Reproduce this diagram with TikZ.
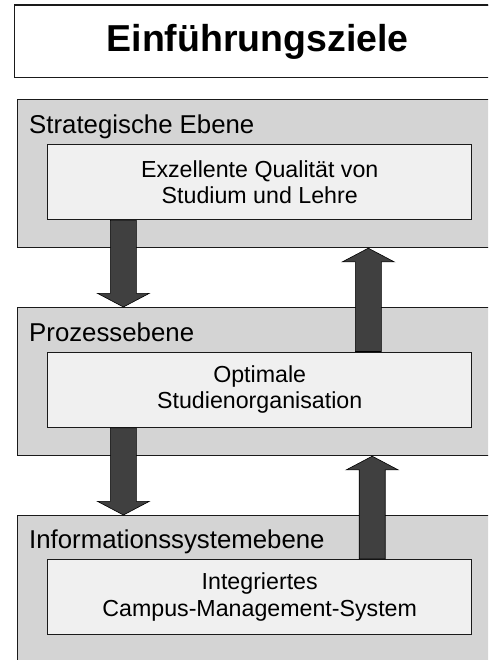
\documentclass[tikz,border=0pt]{standalone}
\usepackage{fontspec}
\setmainfont{Liberation Sans}
\usetikzlibrary{calc}
\definecolor{levelgray}{HTML}{D4D4D4}
\definecolor{innergray}{HTML}{F0F0F0}
\definecolor{arrowgray}{HTML}{404040}
\definecolor{edgeblack}{HTML}{1A1A1A}
\tikzset{
  titlebox/.style={draw=edgeblack, line width=1.3pt, fill=white, anchor=north west,
    minimum width=486pt, minimum height=72pt, inner sep=0pt,
    font=\fontsize{37.5}{44}\selectfont\bfseries},
  levelbox/.style={draw=edgeblack, line width=1.2pt, fill=levelgray, anchor=north west,
    minimum width=520pt, inner sep=0pt},
  levellabel/.style={anchor=base west, inner sep=0pt, font=\fontsize{25.8}{30}\selectfont},
  innerbox/.style={draw=edgeblack, line width=1.4pt, fill=innergray, anchor=north west,
    minimum width=424pt, minimum height=75pt, inner sep=0pt, align=center,
    font=\fontsize{23.2}{26.5}\selectfont},
  fatarrow/.style={draw=black, line width=0.6pt, fill=arrowgray, line join=miter}
}
% fat arrow from #1 to #2 along a vertical line; #3 = +1 (downwards) or -1 (upwards)
\newcommand\fatarrow[3]{%
  \draw[fatarrow] let \p1=(#1), \p2=(#2) in
    ({\x1-13pt},{\y1}) -- ({\x1-13pt},{\y2+#3*13.7pt}) -- ({\x1-26pt},{\y2+#3*13.7pt})
    -- ({\x1},{\y2}) -- ({\x1+26pt},{\y2+#3*13.7pt}) -- ({\x1+13pt},{\y2+#3*13.7pt})
    -- ({\x1+13pt},{\y1}) -- cycle;}
\begin{document}
\begin{tikzpicture}[x=1pt,y=-1pt]
\useasboundingbox (0,0) rectangle (488,660);
\clip (0,0) rectangle (488,660);
\fill[white] (0,0) rectangle (488,660);

\node[titlebox] (title) at (14,5) {Einführungsziele};
\draw[edgeblack, line width=1.3pt] (title.north west) -- (title.north east);

\node[levelbox, minimum height=148pt] (lv1) at (17,99) {};
\node[levellabel] (lab1) at (29,133.5) {Strategische Ebene};
\node[innerbox] (in1) at (47,144) {Exzellente Qualität von\\Studium und Lehre};

\node[levelbox, minimum height=148pt] (lv2) at (17,307) {};
\node[levellabel] (lab2) at (29,341) {Prozessebene};
\node[innerbox] (in2) at (47,351.5) {Optimale\\Studienorganisation};

\node[levelbox, minimum height=170pt] (lv3) at (17,515) {};
\node[levellabel] (lab3) at (29,548.5) {Informationssystemebene};
\node[innerbox] (in3) at (47,559) {Integriertes\\Campus-Management-System};

\coordinate (xdown) at (123.4,0);
\coordinate (xup1) at (368.3,0);
\coordinate (xup2) at (372.2,0);

\fatarrow{in1.south -| xdown}{lv2.north -| xdown}{1}
\fatarrow{in2.north -| xup1}{lv1.south -| xup1}{-1}
\fatarrow{in2.south -| xdown}{lv3.north -| xdown}{1}
\fatarrow{in3.north -| xup2}{lv2.south -| xup2}{-1}
\end{tikzpicture}
\end{document}
